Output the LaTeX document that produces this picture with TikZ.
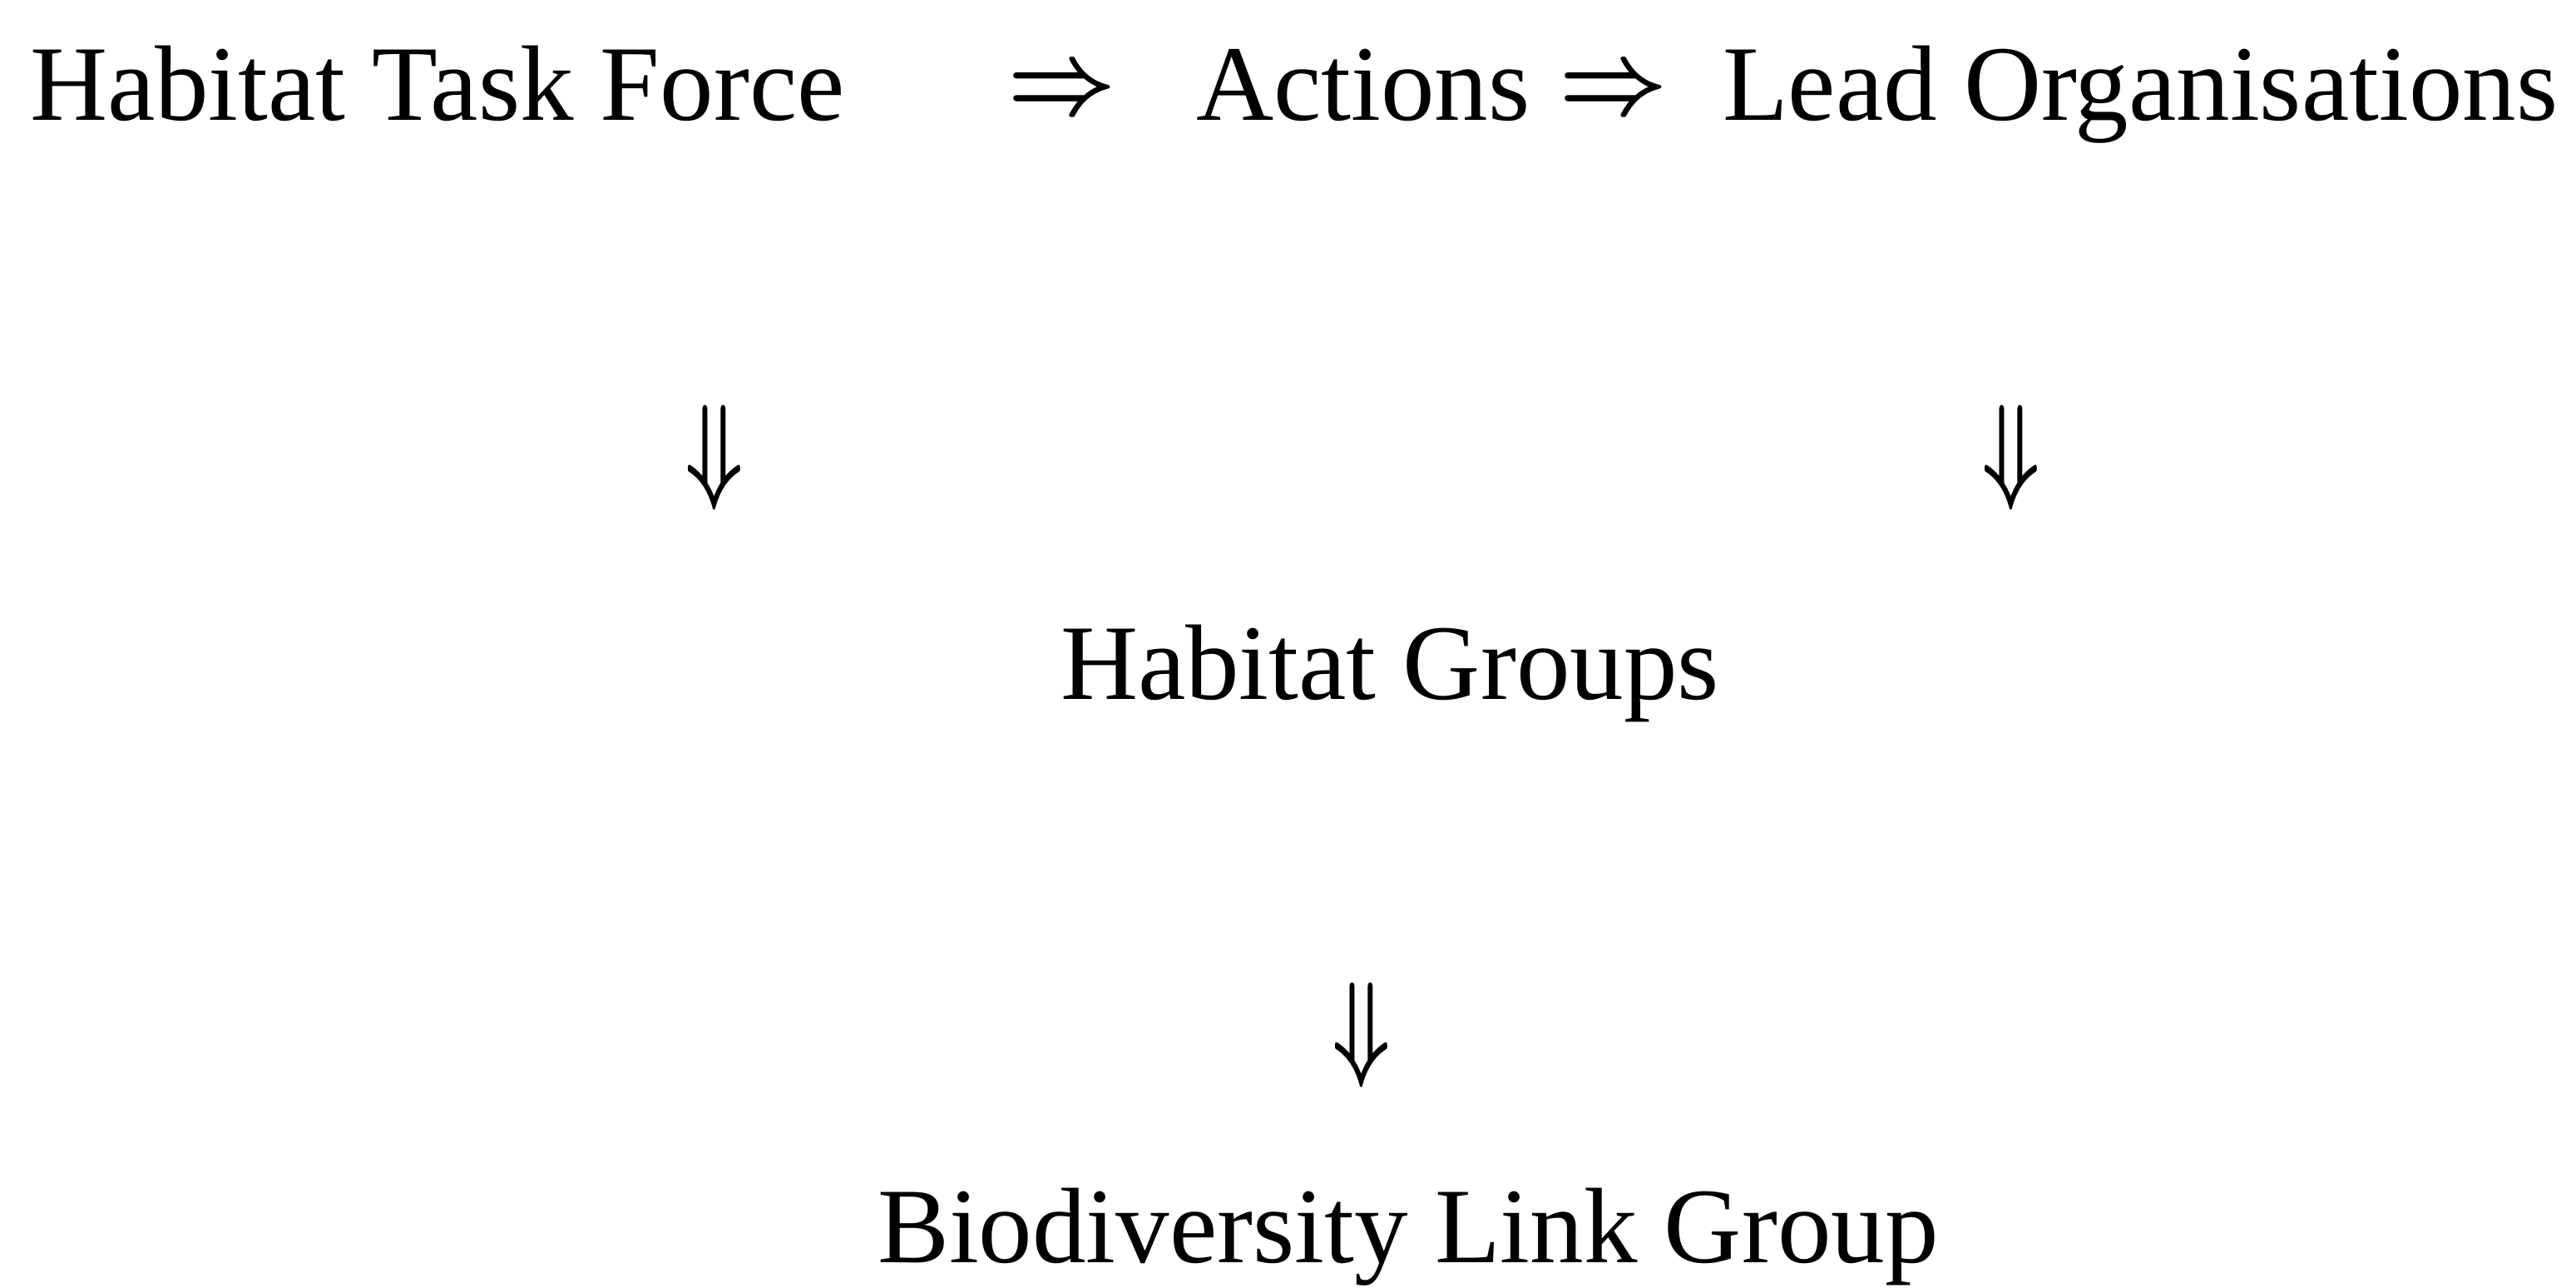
\documentclass[tikz,border=0pt]{standalone}
\usepackage{amsmath}
\usepackage{graphicx}
\usepackage{fontspec}
\setmainfont{Liberation Serif}
\usepackage{tikz}
\newcommand{\dblright}{\scalebox{1.3}[1.4]{$\boldsymbol{\Rightarrow}$}}
\newcommand{\dbldown}{\scalebox{1.12}[1.62]{$\boldsymbol{\Downarrow}$}}
\tikzstyle{entry} = [inner sep=0pt, outer sep=0pt, anchor=base west, font=\fontsize{36.7pt}{44pt}\selectfont]
\tikzstyle{sign} = [inner sep=0pt, outer sep=0pt, font=\fontsize{36.7pt}{44pt}\selectfont]

\begin{document}
\begin{tikzpicture}
\useasboundingbox (0,0) rectangle (30.97,-15.47);
\node (taskforce) [entry] at (0.36,-1.44) {Habitat Task Force};
\node (tofirst) [sign] at (12.77,-1.12) {\dblright};
\node (actions) [entry] at (14.38,-1.44) {Actions};
\node (tosecond) [sign] at (19.40,-1.12) {\dblright};
\node (leadorgs) [entry] at (20.71,-1.44) {Lead Organisations};
\node (downleft) [sign] at (8.59,-5.50) {\dbldown};
\node (downright) [sign] at (24.18,-5.50) {\dbldown};
\node (groups) [entry] at (12.75,-8.40) {Habitat Groups};
\node (downmid) [sign] at (16.37,-12.44) {\dbldown};
\node (linkgroup) [entry] at (10.55,-15.17) {Biodiversity Link Group};
\end{tikzpicture}
\end{document}
